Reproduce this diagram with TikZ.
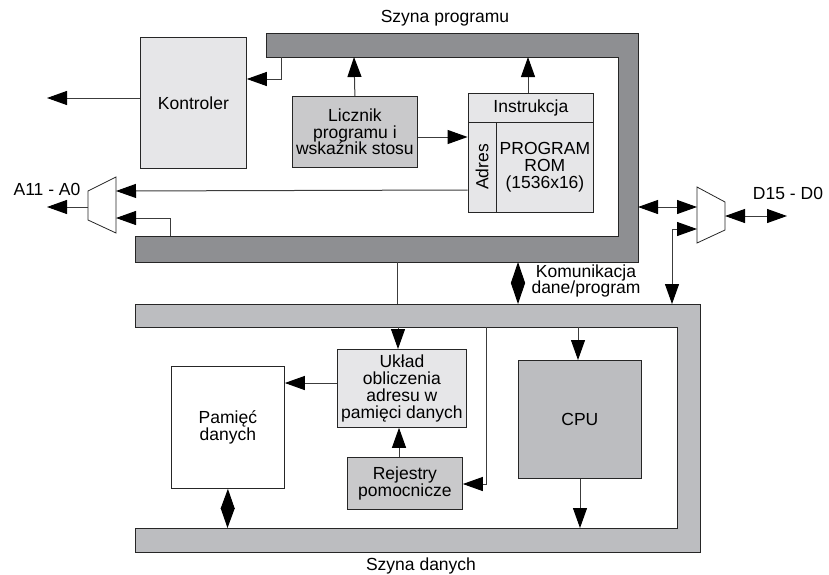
\documentclass[tikz,border=0pt]{standalone}
\usepackage{fontspec}
\setmainfont{Liberation Sans}
\usetikzlibrary{arrows.meta}
\definecolor{progbus}{HTML}{8E8F92}
\definecolor{databus}{HTML}{BCBDC0}
\definecolor{lightbox}{HTML}{E6E6E8}
\definecolor{midbox}{HTML}{C9C9CB}
\definecolor{wire}{HTML}{3C3C3C}
\begin{document}
\begin{tikzpicture}[x=1pt,y=-1pt,
  txt/.style={font=\fontsize{17.5}{16.8}\selectfont, align=center, inner sep=0pt},
  blk/.style={txt, draw=black!85, line width=0.8pt, anchor=north west},
  busline/.style={draw=black!85, line width=0.8pt},
  conn/.style={draw=wire, line width=1pt, -{Triangle[length=20pt,width=14pt,color=black]}},
  bidir/.style={draw=wire, line width=1pt, {Triangle[length=20pt,width=14pt,color=black]}-{Triangle[length=20pt,width=14pt,color=black]}},
  plain/.style={draw=wire, line width=1pt}]
\useasboundingbox (0,0) rectangle (829,574);

% program bus
\path[busline, fill=progbus] (266,33) -- (638,33) -- (638,262) -- (135,262) -- (135,236)
  -- (618,236) -- (618,57) -- (266,57) -- cycle;
% data bus
\path[busline, fill=databus] (135,304) -- (700,304) -- (700,552) -- (135,552) -- (135,528)
  -- (677,528) -- (677,327) -- (135,327) -- cycle;

\node[txt] (szp) at (445,18) {Szyna programu};
\node[txt] (szd) at (421,566) {Szyna danych};

% blocks
\node[blk, fill=lightbox, minimum width=106pt, minimum height=131pt] (kontroler) at (140,37) {Kontroler};
\node[blk, fill=midbox, minimum width=125pt, minimum height=71pt] (licznik) at (292,96)
  {Licznik\\programu i\\wskaźnik stosu};
\node[blk, fill=lightbox, minimum width=125pt, minimum height=29pt] (instr) at (468,93) {Instrukcja};
\node[txt, draw=black!85, line width=0.8pt, fill=lightbox, rotate=90, minimum width=90pt, minimum height=28pt]
  (adres) at (482,167) {Adres};
\node[blk, fill=lightbox, minimum width=97pt, minimum height=90pt] (rom) at (496,122)
  {PROGRAM\\ROM\\(1536x16)};
\node[blk, fill=lightbox, minimum width=129pt, minimum height=78pt] (uklad) at (337,349)
  {Układ\\obliczenia\\adresu w\\pamięci danych};
\node[blk, fill=white, minimum width=113pt, minimum height=122pt] (pamiec) at (171,366) {Pamięć\\danych};
\node[blk, fill=midbox, minimum width=115pt, minimum height=52pt] (rejestry) at (347,457) {Rejestry\\pomocnicze};
\node[blk, fill=databus, minimum width=123pt, minimum height=118pt] (cpu) at (518,360) {CPU};

% multiplexers
\draw[busline, fill=white] (88,191) -- (116,177) -- (116,233) -- (88,220) -- cycle;
\draw[busline, fill=white] (697,187) -- (725,202) -- (725,230) -- (697,243) -- cycle;
\coordinate (mlin1) at (116,191);
\coordinate (mlin2) at (116,218);
\coordinate (mlout) at (88,207);
\coordinate (mrin1) at (697,207);
\coordinate (mrin2) at (697,229);
\coordinate (mrout) at (725,216);

\node[txt] (alabel) at (47,189) {A11 - A0};
\node[txt] (dlabel) at (788,193) {D15 - D0};
\node[txt] (kom) at (586,281) {Komunikacja\\dane/program};

% bus attachment points
\coordinate (pbk) at (281,57);
\coordinate (pbl) at (354,57);
\coordinate (pbi) at (528,57);
\coordinate (pbr) at (638,207);
\coordinate (pbm) at (170,236);
\coordinate (pbc) at (518,262);
\coordinate (pbd) at (397,262);
\coordinate (dbc) at (518,304);
\coordinate (dbd) at (397,304);
\coordinate (dbm) at (672,304);
\coordinate (dbu) at (398,327);
\coordinate (dbr) at (486,327);
\coordinate (dbcpu) at (578,327);
\coordinate (dbbot) at (580,528);
\coordinate (dbpam) at (227.5,528);
\coordinate (kout) at (47,98);
\coordinate (aout) at (47,207);
\coordinate (dout) at (787,216);

% connectors
\draw[conn] (pbk) |- (kontroler.east |- 0,79);
\draw[conn] (kontroler.west |- kout) -- (kout);
\draw[conn] (licznik.north) -- (pbl);
\draw[conn] (licznik.east |- 0,137) -- (adres.north |- 0,137);
\draw[conn] (instr.north -| pbi) -- (pbi);
\draw[conn] (adres.north |- 0,190) -- (mlin1);
\draw[conn] (pbm) |- (mlin2);
\draw[conn] (mlout) -- (aout);
\draw[bidir] (pbr) -- (mrin1);
\draw[bidir] (dbm) |- (mrin2);
\draw[bidir] (mrout) -- (dout);
\draw[draw=wire, line width=1pt, {Triangle[length=21pt,width=14pt,color=black]}-{Triangle[length=21pt,width=14pt,color=black]}] (pbc) -- (dbc);
\draw[plain] (pbd) -- (dbd);
\draw[conn] (dbu) -- (uklad.north -| dbu);
\draw[conn] (uklad.west |- 0,383) -- (pamiec.east |- 0,383);
\draw[bidir] (pamiec.south) -- (dbpam);
\draw[conn] (rejestry.north -| 399,0) -- (uklad.south -| 399,0);
\draw[conn] (dbr) |- (rejestry.east |- 0,484);
\draw[conn] (dbcpu) -- (cpu.north -| dbcpu);
\draw[conn] (cpu.south -| dbbot) -- (dbbot);
\end{tikzpicture}
\end{document}
